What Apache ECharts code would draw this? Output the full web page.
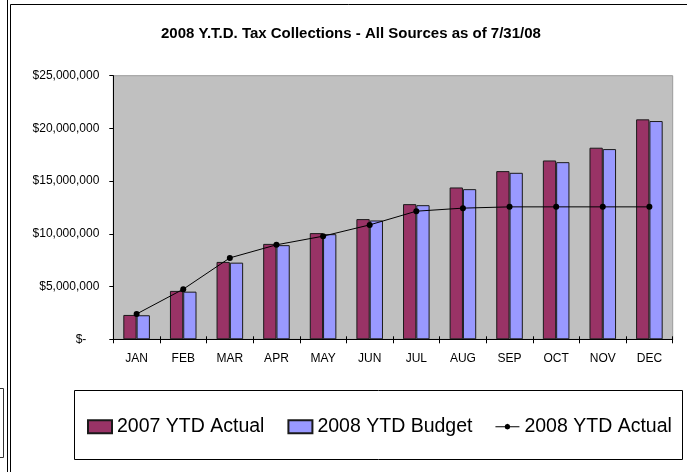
<!DOCTYPE html>
<html>
<head>
<meta charset="utf-8">
<script src="https://cdn.jsdelivr.net/npm/echarts@6/dist/echarts.min.js"></script>
<style>
  html, body { margin: 0; padding: 0; background: #fff; }
  #chart { width: 687px; height: 472px; }
</style>
</head>
<body>
<div id="chart"></div>
<script>
// Monthly year-to-date tax collections
const months = ['JAN', 'FEB', 'MAR', 'APR', 'MAY', 'JUN', 'JUL', 'AUG', 'SEP', 'OCT', 'NOV', 'DEC'];
const actual2007 = [2310000, 4590000, 7340000, 9050000, 10070000, 11400000, 12820000, 14400000, 15950000, 16960000, 18170000, 20860000];
const budget2008 = [2280000, 4520000, 7270000, 8930000, 9970000, 11270000, 12720000, 14240000, 15790000, 16800000, 18040000, 20700000];
const actual2008 = [2400000, 4750000, 7720000, 8960000, 9780000, 10850000, 12150000, 12440000, 12560000, 12560000, 12560000, 12560000];
const seriesNames = ['2007 YTD Actual', '2008 YTD Budget', '2008 YTD Actual'];
const titleText = '2008 Y.T.D. Tax Collections - All Sources as of 7/31/08';

const FONT = '"Liberation Sans", Arial, sans-serif';

// small line-with-dot marker for the line series legend entry
const LINE_MARKER = 'path://M0,6 L21,6 L21,7 L0,7 Z M8,6.5 L8.7,4.7 L10.5,4 L12.3,4.7 L13,6.5 L12.3,8.3 L10.5,9 L8.7,8.3 Z';

function money(v) {
  if (v === 0) return '{z|$-}';
  return '$' + v.toString().replace(/\B(?=(\d{3})+(?!\d))/g, ',');
}

const chart = echarts.init(document.getElementById('chart'), null, { renderer: 'canvas' });

chart.setOption({
  animation: false,
  backgroundColor: '#fff',
  textStyle: { fontFamily: FONT, color: '#000' },
  title: {
    text: titleText,
    left: 161,
    top: 26.5,
    padding: 0,
    textStyle: { fontFamily: FONT, fontSize: 15, fontWeight: 'bold', color: '#000' }
  },
  grid: {
    left: 113.3,
    right: 14.3,
    top: 75.7,
    bottom: 132.7,
    show: true,
    backgroundColor: '#c0c0c0',
    borderColor: '#9a9a9a',
    borderWidth: 1
  },
  legend: {
    data: [
      { name: seriesNames[0], icon: 'rect' },
      { name: seriesNames[1], icon: 'rect' },
      { name: seriesNames[2], icon: LINE_MARKER,
        itemStyle: { color: '#000', borderColor: '#000', borderWidth: 0 } }
    ],
    left: 87,
    top: 416.7,
    padding: 0,
    itemWidth: 24,
    itemHeight: 13,
    itemGap: 23,
    symbolKeepAspect: true,
    textStyle: { fontFamily: FONT, fontSize: 19.5, color: '#000', lineHeight: 20 }
  },
  graphic: [
    // legend frame
    { type: 'rect', shape: { x: 74.5, y: 390.5, width: 608, height: 69 },
      style: { fill: 'none', stroke: '#000', lineWidth: 1 }, z: 0 },
    // outer chart frame
    { type: 'line', shape: { x1: 7.5, y1: 0, x2: 7.5, y2: 472 }, style: { stroke: '#000', lineWidth: 1 } },
    { type: 'line', shape: { x1: 10.5, y1: 4.5, x2: 10.5, y2: 472 }, style: { stroke: '#000', lineWidth: 1 } },
    { type: 'line', shape: { x1: 10.5, y1: 4.5, x2: 687, y2: 4.5 }, style: { stroke: '#000', lineWidth: 1 } },
    // neighbouring cell box at the left edge
    { type: 'polyline', shape: { points: [[0, 388.5], [3.5, 388.5], [3.5, 457.5], [0, 457.5]] },
      style: { fill: 'none', stroke: '#333', lineWidth: 1 } }
  ],
  xAxis: [
    {
      type: 'category',
      data: months,
      axisLine: { lineStyle: { color: '#000', width: 1 } },
      axisTick: { show: true, length: 4, lineStyle: { color: '#000' } },
      axisLabel: { fontFamily: FONT, fontSize: 12, color: '#000', margin: 13.5 },
      splitLine: { show: false }
    },
    {
      // inner half of the cross tick marks
      type: 'category',
      data: months,
      position: 'bottom',
      axisLine: { show: false },
      axisTick: { show: true, inside: true, length: 3, lineStyle: { color: '#000' } },
      axisLabel: { show: false },
      splitLine: { show: false }
    }
  ],
  yAxis: {
    type: 'value',
    min: 0,
    max: 25000000,
    interval: 5000000,
    axisLine: { show: true, lineStyle: { color: '#000', width: 1 } },
    axisTick: { show: true, length: 4, lineStyle: { color: '#000' } },
    splitLine: { show: false },
    axisLabel: {
      fontFamily: FONT,
      fontSize: 12,
      color: '#000',
      margin: 14,
      formatter: money,
      rich: { z: { fontFamily: FONT, fontSize: 12, color: '#000', padding: [0, 13, 0, 0] } }
    }
  },
  series: [
    {
      name: seriesNames[0],
      type: 'bar',
      data: actual2007,
      barGap: '0%',
      barCategoryGap: '43%',
      itemStyle: { color: '#993366', borderColor: '#1a1a1a', borderWidth: 1 }
    },
    {
      name: seriesNames[1],
      type: 'bar',
      data: budget2008,
      barGap: '0%',
      barCategoryGap: '43%',
      itemStyle: { color: '#9999ff', borderColor: '#1a1a1a', borderWidth: 1 }
    },
    {
      name: seriesNames[2],
      type: 'line',
      data: actual2008,
      symbol: 'circle',
      symbolSize: 6,
      z: 5,
      lineStyle: { color: '#000', width: 1 },
      itemStyle: { color: '#000' }
    }
  ]
});
</script>
</body>
</html>
